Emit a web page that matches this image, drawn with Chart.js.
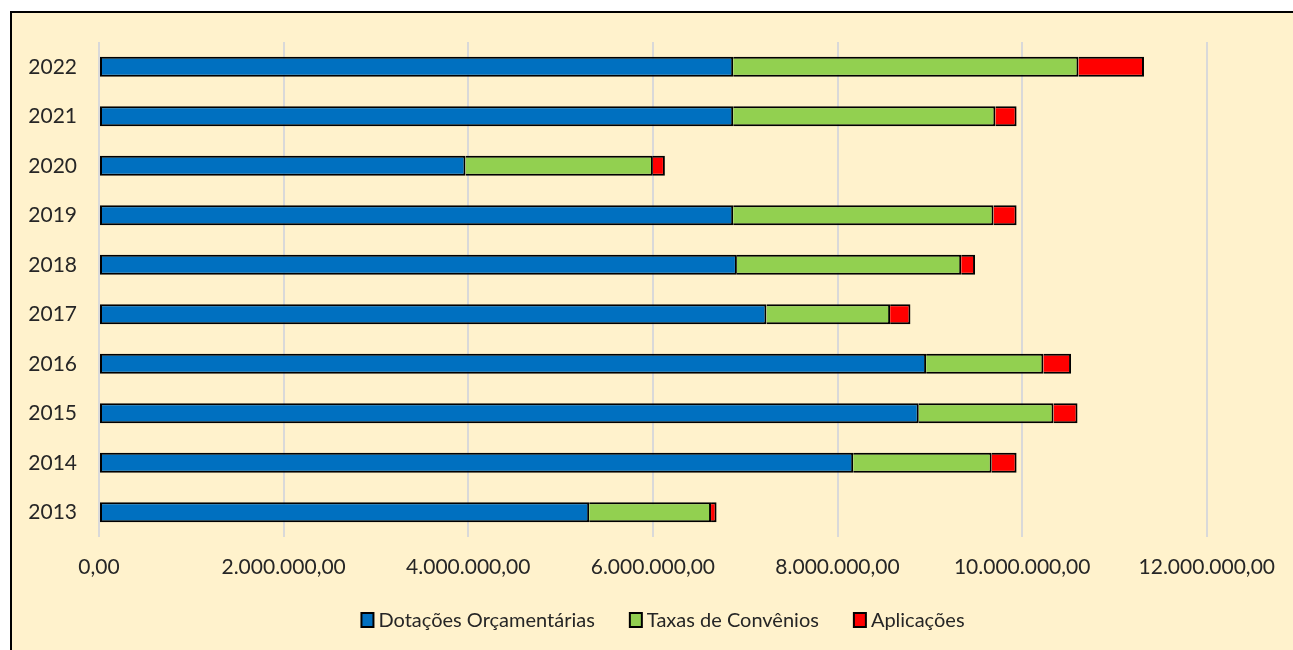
<!DOCTYPE html>
<html lang="pt-BR">
<head>
<meta charset="utf-8">
<title>Receitas por origem 2013-2022</title>
<script src="https://cdn.jsdelivr.net/npm/chart.js@4/dist/chart.umd.min.js"></script>
<style>
	html, body { margin: 0; padding: 0; background: #ffffff; overflow: hidden; }
	#frame {
		position: absolute;
		left: 10px;
		top: 11px;
		width: 1320px;
		height: 700px;
		border: 2px solid #000000;
		background: #FFF2CC;
	}
	#chart { position: absolute; left: 0; top: 0; }
</style>
</head>
<body>
<div id="frame"></div>
<canvas id="chart" width="1293" height="650"></canvas>
<script>
// Data (R$)
var years = ['2013', '2014', '2015', '2016', '2017', '2018', '2019', '2020', '2021', '2022'];
var dotacoes = [5310000, 8170000, 8880000, 8960000, 7230000, 6910000, 6870000, 3970000, 6870000, 6870000];
var taxas = [1320000, 1500000, 1460000, 1270000, 1340000, 2430000, 2820000, 2030000, 2840000, 3740000];
var aplicacoes = [60000, 270000, 260000, 300000, 220000, 150000, 250000, 130000, 230000, 710000];
var xTicks = [0, 2000000, 4000000, 6000000, 8000000, 10000000, 12000000];

var seriesNames = ['Dotações Orçamentárias', 'Taxas de Convênios', 'Aplicações'];
var seriesColors = ['#0070C0', '#92D050', '#FF0000'];

(function() {
	'use strict';

	var textColor = '#262626';

	/**
	 * Format a number as 1.234.567,00
	 */
	function formatBRL(value) {
		var parts = Math.round(value).toString().replace(/\B(?=(\d{3})+(?!\d))/g, '.');
		return parts + ',00';
	}

	/**
	 * Legend drawn under the axis, Excel style (small box, tight text)
	 */
	var bottomLegend = {
		id: 'bottomLegend',
		afterDraw: function(chart) {
			var ctx = chart.ctx;
			var sets = chart.data.datasets;
			var boxW = 12, boxH = 14, boxGap = 5, itemGap = 35;
			var centerX = 663, centerY = 620;

			ctx.save();
			ctx.font = '20px Lato';
			ctx.textBaseline = 'middle';
			ctx.textAlign = 'left';

			var widths = sets.map(function(ds) { return ctx.measureText(ds.label).width; });
			var total = 0;
			widths.forEach(function(w) { total += boxW + boxGap + w; });
			total += itemGap * (sets.length - 1);

			var x = centerX - total / 2;
			sets.forEach(function(ds, i) {
				ctx.fillStyle = ds.backgroundColor;
				ctx.fillRect(x, centerY - boxH / 2, boxW, boxH);
				ctx.lineWidth = 2;
				ctx.strokeStyle = '#000000';
				ctx.strokeRect(x, centerY - boxH / 2, boxW, boxH);
				ctx.fillStyle = textColor;
				ctx.fillText(ds.label, x + boxW + boxGap, centerY + 1);
				x += boxW + boxGap + widths[i] + itemGap;
			});
			ctx.restore();
		}
	};

	Chart.defaults.font.family = 'Lato';
	Chart.defaults.font.size = 21;
	Chart.defaults.color = textColor;

	var seriesData = [dotacoes, taxas, aplicacoes];

	var datasets = seriesData.map(function(values, i) {
		return {
			label: seriesNames[i],
			data: values,
			backgroundColor: seriesColors[i],
			borderColor: '#000000',
			borderWidth: 2,
			// first segment gets a full outline, the others share its edge
			borderSkipped: i === 0 ? false : 'start',
			categoryPercentage: 1,
			barPercentage: 0.4
		};
	});

	new Chart(document.getElementById('chart'), {
		type: 'bar',
		data: {
			labels: years,
			datasets: datasets
		},
		options: {
			responsive: false,
			animation: false,
			indexAxis: 'y',
			layout: {
				padding: { left: 0, right: 86, top: 42, bottom: 0 }
			},
			plugins: {
				legend: { display: false },
				tooltip: { enabled: false }
			},
			scales: {
				x: {
					stacked: true,
					min: 0,
					max: 12000000,
					afterFit: function(axis) { axis.height = 113; },
					afterBuildTicks: function(axis) {
						axis.ticks = xTicks.map(function(v) { return { value: v }; });
					},
					grid: {
						color: '#D9D9D9',
						lineWidth: 2,
						drawTicks: false
					},
					border: { display: false },
					ticks: {
						padding: 18,
						maxRotation: 0,
						callback: function(value) { return formatBRL(value); }
					}
				},
				y: {
					stacked: true,
					reverse: true,
					afterFit: function(axis) { axis.width = 99; },
					grid: { display: false, drawTicks: false },
					border: { display: false },
					ticks: { padding: 22 }
				}
			}
		},
		plugins: [bottomLegend]
	});
})();
</script>
</body>
</html>
